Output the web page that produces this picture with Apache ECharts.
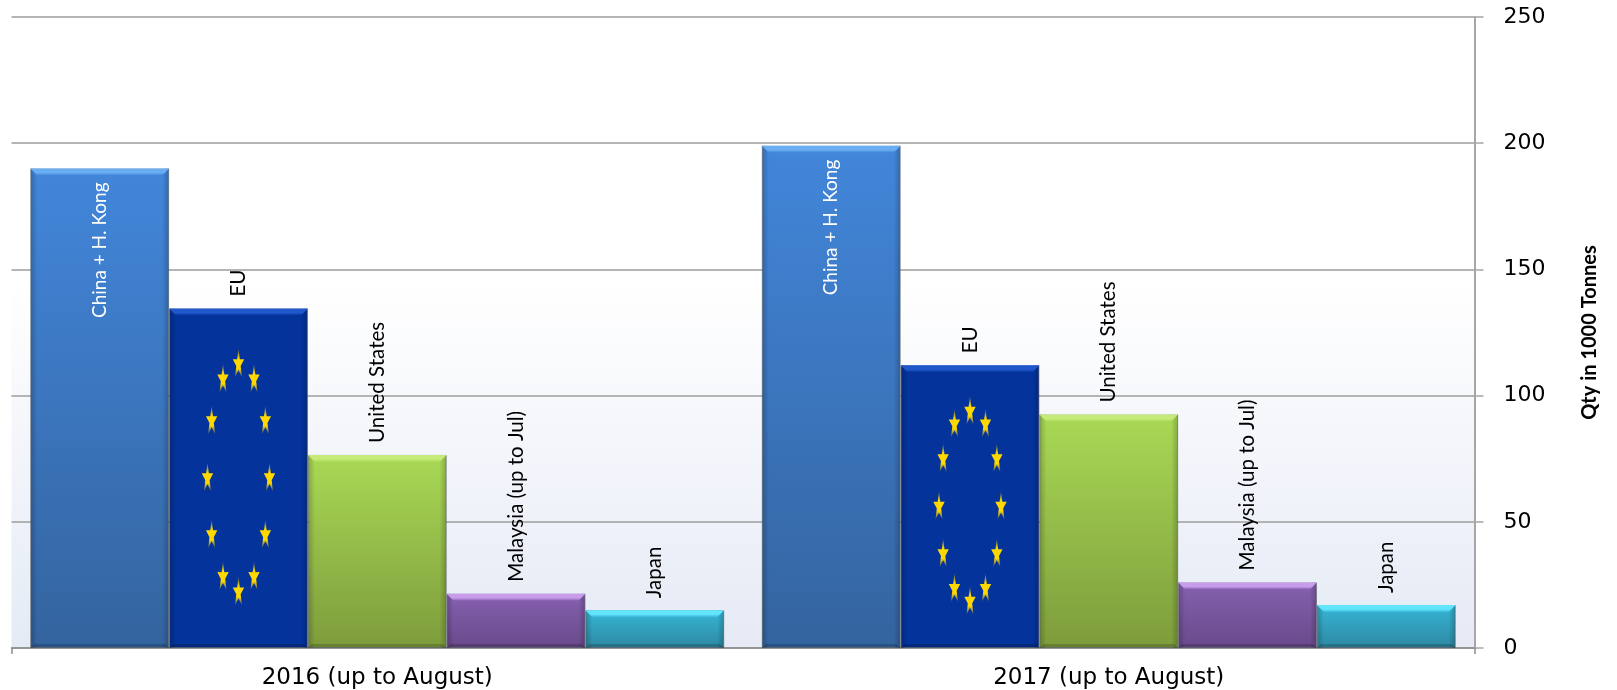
<!DOCTYPE html>
<html>
<head>
<meta charset="utf-8">
<style>
  html, body { margin: 0; padding: 0; background: #fff; }
  #main { width: 1617px; height: 690px; }
</style>
<script src="https://cdn.jsdelivr.net/npm/echarts@6/dist/echarts.min.js"></script>
</head>
<body>
<div id="main"></div>
<script>
const periods = ['2016 (up to August)', '2017 (up to August)'];
const countries = ['China + H. Kong', 'EU', 'United States', 'Malaysia (up to Jul)', 'Japan'];
const china = [190, 199];
const eu = [134.5, 112];
const unitedStates = [76.5, 92.5];
const malaysia = [21.5, 26];
const japan = [15, 17];
const yTicks = { min: 0, max: 250, interval: 50 };

const seriesValues = [china, eu, unitedStates, malaysia, japan];
// top colour, bottom colour, bevel highlight
const barColors = [
  ['#4286da', '#34649f', '#69aef2'],
  ['#04339c', '#04339c', '#2058cc'],
  ['#a9d955', '#7d9c3c', '#c6ea78'],
  ['#8661b0', '#69498a', '#c89ceb'],
  ['#36b6d6', '#2e88a2', '#62e4fa']
];
const GAP = 0.0515;
const labelFont = 'Lato, "Open Sans", sans-serif';
const axisFont = '"DejaVu Sans", Verdana, sans-serif';

function starPoints(cx, cy, w, h) {
  const pts = [];
  for (let k = 0; k < 10; k++) {
    const r = k % 2 === 0 ? 1 : 0.38;
    const a = -Math.PI / 2 + k * Math.PI / 5;
    pts.push([cx + Math.cos(a) * r * w / 2, cy + Math.sin(a) * r * h / 2]);
  }
  return pts;
}

// bevel edges of each bar, plus the ring of stars on the EU bars
function renderBevel(params, api) {
  const catIdx = api.value(0);
  const val = api.value(1);
  const i = api.value(2);
  const band = api.size([1, 0])[0];
  const bw = band * (1 - GAP) / countries.length;
  const center = api.coord([catIdx, 0]);
  const top = api.coord([catIdx, val])[1];
  const bottom = center[1];
  const x0 = center[0] - bw * countries.length / 2 + i * bw;
  const x1 = x0 + bw;
  const b = 7;
  const side = (x, w, from, to) => ({
    type: 'rect',
    shape: { x: x, y: top, width: w, height: bottom - top },
    style: { fill: new echarts.graphic.LinearGradient(0, 0, 1, 0, [
      { offset: 0, color: from }, { offset: 1, color: to }
    ]) }
  });
  const children = [
    side(x0, b, 'rgba(0,0,0,0.22)', 'rgba(0,0,0,0)'),
    side(x1 - b, b, 'rgba(0,0,0,0)', 'rgba(0,0,0,0.22)'),
    {
      type: 'polygon',
      shape: { points: [[x0, top], [x1, top], [x1 - b, top + b], [x0 + b, top + b]] },
      style: { fill: new echarts.graphic.LinearGradient(0, 0, 0, 1, [
        { offset: 0, color: barColors[i][2] },
        { offset: 0.6, color: barColors[i][2] },
        { offset: 1, color: barColors[i][0] }
      ]) }
    },
    {
      type: 'polygon',
      shape: { points: [[x0, bottom], [x1, bottom], [x1 - 4, bottom - 4], [x0 + 4, bottom - 4]] },
      style: { fill: 'rgba(0,0,0,0.18)' }
    }
  ];
  if (i === 1) {
    const cx = x0 + bw / 2;
    const cy = (top + bottom) / 2;
    const ry = (bottom - top) * 0.336;
    for (let k = 0; k < 12; k++) {
      const a = k * Math.PI / 6;
      const sx = cx + Math.sin(a) * 31;
      const sy = cy - Math.cos(a) * ry;
      children.push({
        type: 'polygon',
        shape: { points: starPoints(sx, sy, 12, 32) },
        style: { fill: new echarts.graphic.LinearGradient(0, 0, 0, 1, [
          { offset: 0, color: 'rgba(255,216,0,0.1)' },
          { offset: 0.35, color: '#ffd800' },
          { offset: 0.7, color: '#ffd800' },
          { offset: 1, color: 'rgba(255,216,0,0.2)' }
        ]) }
      });
    }
  }
  return { type: 'group', children: children };
}

const bevelData = [];
seriesValues.forEach((vals, i) => {
  vals.forEach((v, c) => bevelData.push([c, v, i]));
});

const chart = echarts.init(document.getElementById('main'));

const barSeries = countries.map((name, i) => ({
  name: name,
  type: 'bar',
  data: seriesValues[i],
  barGap: 0,
  barCategoryGap: (GAP * 100) + '%',
  z: 2,
  itemStyle: {
    color: new echarts.graphic.LinearGradient(0, 0, 0, 1, [
      { offset: 0, color: barColors[i][0] },
      { offset: 1, color: barColors[i][1] }
    ]),
    borderColor: 'rgba(110,120,130,0.5)',
    borderWidth: 1
  },
  label: {
    show: true,
    formatter: name,
    rotate: 90,
    position: i === 0 ? 'insideTop' : 'top',
    distance: i === 0 ? 14 : 12,
    align: i === 0 ? 'right' : 'left',
    verticalAlign: 'middle',
    color: i === 0 ? '#fff' : '#000',
    fontFamily: labelFont,
    fontSize: i === 0 ? 19 : 20.5
  }
}));

chart.setOption({
  animation: false,
  backgroundColor: '#fff',
  grid: {
    show: true,
    left: 11.5,
    right: 142.5,
    top: 17,
    bottom: 42,
    borderWidth: 0,
    backgroundColor: new echarts.graphic.LinearGradient(0, 0, 0, 1, [
      { offset: 0, color: '#ffffff' },
      { offset: 0.42, color: '#ffffff' },
      { offset: 1, color: '#e5eaf5' }
    ])
  },
  xAxis: {
    type: 'category',
    data: periods,
    axisLine: { lineStyle: { color: '#8c8c8c', width: 1.5 } },
    axisTick: {
      show: true,
      length: 6,
      interval: (idx) => idx === 0,
      lineStyle: { color: '#8c8c8c', width: 1.5 }
    },
    axisLabel: { color: '#000', fontFamily: axisFont, fontSize: 23, margin: 19 }
  },
  yAxis: {
    type: 'value',
    position: 'right',
    min: yTicks.min,
    max: yTicks.max,
    interval: yTicks.interval,
    name: 'Qty in 1000 Tonnes',
    nameLocation: 'middle',
    nameRotate: 90,
    nameGap: 105,
    nameTextStyle: { color: '#000', fontFamily: labelFont, fontWeight: 'bold', fontSize: 20 },
    axisLine: { show: true, lineStyle: { color: '#a6a6a6', width: 2 } },
    axisTick: { show: true, length: 9, lineStyle: { color: '#a6a6a6', width: 1.5 } },
    axisLabel: { color: '#000', fontFamily: axisFont, fontSize: 22, margin: 29, padding: [3, 0, 0, 0] },
    splitLine: { show: true, lineStyle: { color: '#9c9c9c', width: 1.5 } }
  },
  series: barSeries.concat([{
    type: 'custom',
    name: 'bevel',
    z: 3,
    silent: true,
    renderItem: renderBevel,
    encode: { x: 0, y: 1 },
    data: bevelData
  }])
});
</script>
</body>
</html>
